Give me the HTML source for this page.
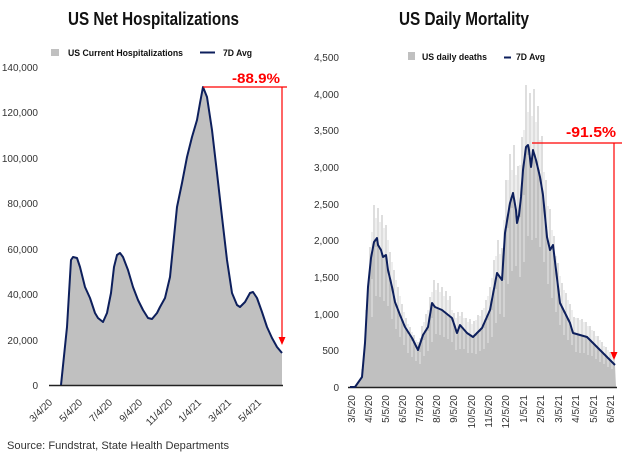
<!DOCTYPE html>
<html>
<head>
<meta charset="utf-8">
<style>
html,body{margin:0;padding:0;background:#fff;}
svg{display:block;}
text{font-family:"Liberation Sans",Arial,sans-serif;}
</style>
</head>
<body>
<svg width="624" height="461" viewBox="0 0 624 461" xmlns="http://www.w3.org/2000/svg">
<rect width="624" height="461" fill="#fff"/>

<!-- ================= LEFT CHART ================= -->
<text x="68" y="25" font-size="18" font-weight="bold" fill="#111" textLength="171" lengthAdjust="spacingAndGlyphs">US Net Hospitalizations</text>

<!-- legend -->
<rect x="51" y="49" width="8" height="7" fill="#c0c0c0"/>
<text x="68" y="56" font-size="9.5" font-weight="bold" fill="#111" textLength="115" lengthAdjust="spacingAndGlyphs">US Current Hospitalizations</text>
<line x1="200" y1="52.5" x2="215" y2="52.5" stroke="#0d1f5c" stroke-width="2"/>
<text x="223" y="56" font-size="9.5" font-weight="bold" fill="#111" textLength="29" lengthAdjust="spacingAndGlyphs">7D Avg</text>

<!-- y labels -->
<g font-size="10" fill="#333" text-anchor="end">
<text x="38" y="71">140,000</text>
<text x="38" y="116">120,000</text>
<text x="38" y="162">100,000</text>
<text x="38" y="207">80,000</text>
<text x="38" y="253">60,000</text>
<text x="38" y="298">40,000</text>
<text x="38" y="344">20,000</text>
<text x="38" y="389">0</text>
</g>

<!-- area -->
<polygon fill="#c0c0c0" points="61,385 67,327 71,260 73,257 77,258 80,267 85,287 90,298 95,313 98,318 103,322 107,313 111,293 114,267 117,255 120,253 123,257 128,270 133,287 138,300 143,310 148,318 152,319 157,313 160,307 165,298 170,277 173,247 177,207 182,183 187,157 192,137 197,120 200,103 203,87 207,97 212,130 217,173 222,217 227,260 232,293 237,305 240,307 245,302 250,293 253,292 257,298 262,312 267,327 272,338 277,347 282,353 282,385"/>
<line x1="49" y1="385.5" x2="283" y2="385.5" stroke="#222" stroke-width="1.5"/>
<polyline fill="none" stroke="#0d1f5c" stroke-width="2" stroke-linejoin="round" points="61,385 67,327 71,260 73,257 77,258 80,267 85,287 90,298 95,313 98,318 103,322 107,313 111,293 114,267 117,255 120,253 123,257 128,270 133,287 138,300 143,310 148,318 152,319 157,313 160,307 165,298 170,277 173,247 177,207 182,183 187,157 192,137 197,120 200,103 203,87 207,97 212,130 217,173 222,217 227,260 232,293 237,305 240,307 245,302 250,293 253,292 257,298 262,312 267,327 272,338 277,347 282,353"/>

<!-- red annotation -->
<line x1="203" y1="87" x2="287" y2="87" stroke="#ff0000" stroke-width="1.2"/>
<line x1="282" y1="87" x2="282" y2="338" stroke="#ff0000" stroke-width="1.2"/>
<polygon points="278.5,337 285.5,337 282,345" fill="#ff0000"/>
<text x="232" y="83" font-size="14" font-weight="bold" fill="#ff0000" textLength="48" lengthAdjust="spacingAndGlyphs">-88.9%</text>

<!-- x labels -->
<g font-size="10" fill="#333" text-anchor="end">
<text transform="translate(53,403) rotate(-45)">3/4/20</text>
<text transform="translate(83,403) rotate(-45)">5/4/20</text>
<text transform="translate(113,403) rotate(-45)">7/4/20</text>
<text transform="translate(143,403) rotate(-45)">9/4/20</text>
<text transform="translate(173,403) rotate(-45)">11/4/20</text>
<text transform="translate(202,403) rotate(-45)">1/4/21</text>
<text transform="translate(232,403) rotate(-45)">3/4/21</text>
<text transform="translate(262,403) rotate(-45)">5/4/21</text>
</g>

<!-- ================= RIGHT CHART ================= -->
<text x="399" y="25" font-size="18" font-weight="bold" fill="#111" textLength="130" lengthAdjust="spacingAndGlyphs">US Daily Mortality</text>

<rect x="408" y="52" width="7" height="8" fill="#c0c0c0"/>
<text x="422" y="60" font-size="9.5" font-weight="bold" fill="#111" textLength="65" lengthAdjust="spacingAndGlyphs">US daily deaths</text>
<line x1="504" y1="57.5" x2="511" y2="57.5" stroke="#0d1f5c" stroke-width="2"/>
<text x="516" y="60" font-size="9.5" font-weight="bold" fill="#111" textLength="29" lengthAdjust="spacingAndGlyphs">7D Avg</text>

<g font-size="10" fill="#333" text-anchor="end">
<text x="339" y="61">4,500</text>
<text x="339" y="98">4,000</text>
<text x="339" y="134">3,500</text>
<text x="339" y="171">3,000</text>
<text x="339" y="208">2,500</text>
<text x="339" y="244">2,000</text>
<text x="339" y="281">1,500</text>
<text x="339" y="318">1,000</text>
<text x="339" y="354">500</text>
<text x="339" y="391">0</text>
</g>

<!-- spikes (upper daily values) -->
<path fill="none" stroke="#c8c8c8" stroke-width="1.2" d="M362 387V369M366 387V310M370 387V247M374 387V205M378 387V208M382 387V215M386 387V225M390 387V252M394 387V270M398 387V287M402 387V304M406 387V318M410 387V327M414 387V335M418 387V342M422 387V326M426 387V314M430 387V297M434 387V280M438 387V283M442 387V287M446 387V291M450 387V296M454 387V313M458 387V312M462 387V312M466 387V318M470 387V319M474 387V321M478 387V315M482 387V310M486 387V300M490 387V287M494 387V260M498 387V240M502 387V248M506 387V180M510 387V154M514 387V145M518 387V166M522 387V137M526 387V85M530 387V93M534 387V89M538 387V106M542 387V136M546 387V180M550 387V209M554 387V236M558 387V263M562 387V283M566 387V293M570 387V304M574 387V317M578 387V318M582 387V319M586 387V322M590 387V326M594 387V331M598 387V336M602 387V342M606 387V347M610 387V352M614 387V357"/>
<path fill="none" stroke="#d4d4d4" stroke-width="0.8" d="M364 387V372M368 387V300M372 387V232M376 387V218M380 387V222M384 387V228M388 387V240M392 387V262M396 387V280M400 387V296M404 387V312M408 387V324M412 387V332M416 387V340M420 387V338M424 387V322M428 387V310M432 387V292M436 387V290M440 387V292M444 387V296M448 387V300M452 387V310M456 387V318M460 387V316M464 387V318M468 387V322M472 387V324M476 387V320M480 387V316M484 387V308M488 387V296M492 387V278M496 387V256M500 387V254M504 387V220M508 387V180M512 387V170M516 387V175M520 387V165M524 387V130M528 387V112M532 387V116M536 387V122M540 387V140M544 387V172M548 387V206M552 387V230M556 387V256M560 387V276M564 387V290M568 387V300M572 387V310M576 387V318M580 387V320M584 387V322M588 387V326M592 387V330M596 387V336M600 387V340M604 387V346M608 387V350M612 387V355"/>

<!-- gray area -->
<polygon fill="#c0c0c0" points="350,387 355,387 362,377 365,343 368,287 371,258 374,242 377,238 378,245 381,250 383,257 386,255 388,270 392,287 395,302 400,315 405,327 412,338 418,350 423,335 428,327 432,303 435,307 442,310 452,318 457,333 460,325 467,333 473,337 482,328 490,310 497,273 502,280 505,233 510,203 513,193 516,210 517,223 519,215 521,197 523,170 526,147 528,145 529,150 531,167 533,150 536,160 540,177 543,195 547,237 550,250 553,245 560,303 570,323 573,333 587,337 597,347 607,357 615,365 616,387"/>

<!-- dips (low daily values) -->
<path fill="none" stroke="#eaeaea" stroke-width="0.9" d="M372 279V317M376 247V296M380 249V297M384 255V301M388 262V306M392 283V319M396 297V329M400 310V337M404 323V345M408 334V353M412 341V357M416 347V361M420 352V364M424 340V356M428 331V351M432 318V342M436 305V334M440 307V335M444 310V337M448 313V339M452 317V342M456 330V350M460 329V349M464 329V349M468 334V353M472 335V353M476 336V354M480 332V351M484 328V349M488 320V343M492 310V337M496 289V323M500 274V314M504 280V317M508 228V284M512 208V271M516 201V266M520 217V277M524 195V262M528 155V236M532 161V240M536 158V238M540 171V247M544 194V262M548 228V284M552 250V298M556 271V312M560 292V325M564 307V335M568 315V340M572 323V345M576 333V352M580 334V353M584 335V353M588 337V355M592 340V356M596 344V359M600 348V362M604 352V364M608 356V367M612 360V369"/>

<line x1="348" y1="387.5" x2="617" y2="387.5" stroke="#222" stroke-width="1.5"/>

<polyline fill="none" stroke="#0d1f5c" stroke-width="2" stroke-linejoin="round" points="350,387 355,387 362,377 365,343 368,287 371,258 374,242 377,238 378,245 381,250 383,257 386,255 388,270 392,287 395,302 400,315 405,327 412,338 418,350 423,335 428,327 432,303 435,307 442,310 452,318 457,333 460,325 467,333 473,337 482,328 490,310 497,273 502,280 505,233 510,203 513,193 516,210 517,223 519,215 521,197 523,170 526,147 528,145 529,150 531,167 533,150 536,160 540,177 543,195 547,237 550,250 553,245 560,303 570,323 573,333 587,337 597,347 607,357 615,365"/>

<!-- red annotation -->
<line x1="532" y1="143" x2="622" y2="143" stroke="#ff0000" stroke-width="1.2"/>
<line x1="614" y1="143" x2="614" y2="353" stroke="#ff0000" stroke-width="1.2"/>
<polygon points="610.5,352 617.5,352 614,360" fill="#ff0000"/>
<text x="566" y="137" font-size="15" font-weight="bold" fill="#ff0000" textLength="50" lengthAdjust="spacingAndGlyphs">-91.5%</text>

<!-- x labels -->
<g font-size="10" fill="#333" text-anchor="end">
<text transform="translate(355,395) rotate(-90)">3/5/20</text>
<text transform="translate(372,395) rotate(-90)">4/5/20</text>
<text transform="translate(389,395) rotate(-90)">5/5/20</text>
<text transform="translate(406,395) rotate(-90)">6/5/20</text>
<text transform="translate(423,395) rotate(-90)">7/5/20</text>
<text transform="translate(440,395) rotate(-90)">8/5/20</text>
<text transform="translate(457,395) rotate(-90)">9/5/20</text>
<text transform="translate(475,395) rotate(-90)">10/5/20</text>
<text transform="translate(492,395) rotate(-90)">11/5/20</text>
<text transform="translate(509,395) rotate(-90)">12/5/20</text>
<text transform="translate(527,395) rotate(-90)">1/5/21</text>
<text transform="translate(544,395) rotate(-90)">2/5/21</text>
<text transform="translate(562,395) rotate(-90)">3/5/21</text>
<text transform="translate(579,395) rotate(-90)">4/5/21</text>
<text transform="translate(597,395) rotate(-90)">5/5/21</text>
<text transform="translate(614,395) rotate(-90)">6/5/21</text>
</g>

<!-- source -->
<text x="7" y="449" font-size="11" fill="#333" textLength="222" lengthAdjust="spacingAndGlyphs">Source: Fundstrat, State Health Departments</text>
</svg>
</body>
</html>
